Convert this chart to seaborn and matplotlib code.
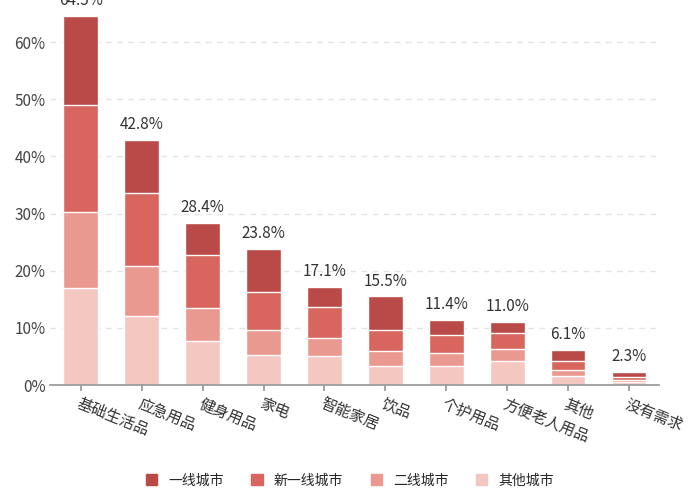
import matplotlib
matplotlib.use("Agg")
import matplotlib.pyplot as plt
import seaborn as sns
import pandas as pd
import numpy as np
from matplotlib.patches import Patch

sns.set_theme(style="white", rc={"font.family": "sans-serif",
                                 "font.sans-serif": ["Noto Sans CJK SC", "Noto Sans CJK JP", "DejaVu Sans"]})

categories = ["基础生活品", "应急用品", "健身用品", "家电", "智能家居", "饮品", "个护用品", "方便老人用品", "其他", "没有需求"]
series = ["一线城市", "新一线城市", "二线城市", "其他城市"]
tier1 = [15.5, 9.2, 5.7, 7.5, 3.5, 5.9, 2.7, 1.9, 1.9, 0.9]
newtier1 = [18.8, 12.8, 9.2, 6.7, 5.4, 3.7, 3.1, 2.8, 1.6, 0.5]
tier2 = [13.2, 8.7, 5.8, 4.4, 3.1, 2.6, 2.3, 2.1, 1.0, 0.4]
others = [17.0, 12.1, 7.7, 5.2, 5.1, 3.3, 3.3, 4.2, 1.6, 0.5]
totals = [64.5, 42.8, 28.4, 23.8, 17.1, 15.5, 11.4, 11.0, 6.1, 2.3]
colors = {"一线城市": "#b94a47", "新一线城市": "#d8665e", "二线城市": "#e9998f", "其他城市": "#f4c7c1"}

fig = plt.figure(figsize=(7, 5), dpi=100)
ax = fig.add_axes([0.072, 0.23, 0.87, 0.75])

stack_order = [("其他城市", others), ("二线城市", tier2), ("新一线城市", newtier1), ("一线城市", tier1)]
cum = np.cumsum([np.array(v) for _, v in stack_order], axis=0)
for i in range(len(stack_order) - 1, -1, -1):
    name = stack_order[i][0]
    df = pd.DataFrame({"cat": categories, "v": cum[i]})
    sns.barplot(data=df, x="cat", y="v", color=colors[name], ax=ax, width=0.57, saturation=1)

for i, t in enumerate(totals):
    ax.text(i, t + 1.2, f"{t}%", ha="center", va="bottom", fontsize=11, color="#333333")

ax.set_ylim(0, 65.6)
ax.set_xlim(-0.5, 9.5)
ax.set_yticks(range(0, 70, 10))
ax.set_yticklabels([f"{v}%" for v in range(0, 70, 10)], fontsize=11, color="#444444")
ax.yaxis.grid(True, linestyle=(0, (4, 4)), color="#e3e3e3")
ax.set_axisbelow(True)
ax.set_xlabel("")
ax.set_ylabel("")
for s in ["top", "right", "left"]:
    ax.spines[s].set_visible(False)
ax.spines["bottom"].set_color("#999999")
ax.tick_params(axis="y", length=0)
ax.tick_params(axis="x", length=4, color="#999999", bottom=True)
ax.set_xticks(range(len(categories)))
ax.set_xticklabels(categories, rotation=-22, ha="left", rotation_mode="anchor", fontsize=11, color="#333333")

handles = [Patch(color=colors[s], label=s) for s in series]
fig.legend(handles=handles, loc="lower center", ncol=4, frameon=False, fontsize=10,
           bbox_to_anchor=(0.5, 0.0), handlelength=0.8, handleheight=0.8, columnspacing=2)
fig.savefig("out.png", dpi=100)
